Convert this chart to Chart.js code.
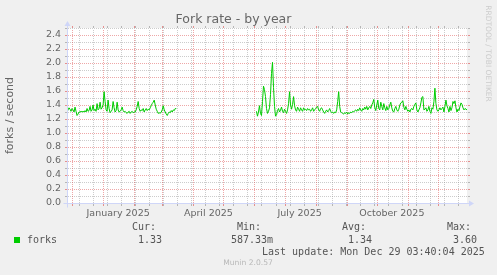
<!DOCTYPE html>
<html><head><meta charset="utf-8">
<script src="https://cdn.jsdelivr.net/npm/chart.js@4.4.1/dist/chart.umd.min.js"></script>
<style>html,body{margin:0;padding:0;background:#f0f0f0;overflow:hidden}#wrap{width:497px;height:275px;position:relative}</style>
</head><body><div id="wrap"><canvas id="c" width="497" height="275"></canvas></div>
<script>
const titleText = 'Fork rate - by year';
const yAxisTitle = 'forks / second';
const seriesName = 'forks';
const axisStart = '2024-11-26';
const axisEnd = '2025-12-30';
const seg1Start = '2024-11-26';
const seg1Values = [
1.30,1.33,1.36,1.34,1.31,1.35,1.33,1.30,1.37,1.31,
1.25,1.27,1.30,1.30,1.31,1.30,1.31,1.30,1.32,1.30,
1.35,1.31,1.32,1.38,1.31,1.33,1.40,1.32,1.34,1.31,
1.42,1.33,1.35,1.44,1.34,1.36,1.40,1.59,1.45,1.33,
1.31,1.47,1.35,1.29,1.31,1.33,1.45,1.36,1.30,1.32,
1.44,1.33,1.30,1.31,1.33,1.37,1.32,1.30,1.31,1.29,
1.28,1.30,1.31,1.28,1.30,1.31,1.29,1.30,1.30,1.33,
1.38,1.45,1.35,1.31,1.33,1.32,1.35,1.30,1.33,1.35,
1.32,1.34,1.33,1.36,1.39,1.42,1.44,1.47,1.40,1.34,
1.31,1.28,1.29,1.28,1.30,1.33,1.39,1.33,1.30,1.27,
1.25,1.28,1.30,1.29,1.32,1.30,1.33,1.32,1.35,1.35];
const seg2Start = '2025-06-03';
const seg2Values = [
1.31,1.24,1.30,1.39,1.28,1.25,1.45,1.67,1.62,1.52,
1.35,1.28,1.31,1.36,1.55,1.85,2.01,1.65,1.38,1.24,
1.26,1.32,1.35,1.30,1.33,1.37,1.31,1.29,1.34,1.31,
1.28,1.33,1.42,1.59,1.40,1.34,1.41,1.52,1.39,1.33,
1.31,1.37,1.34,1.31,1.36,1.33,1.31,1.36,1.33,1.34,
1.32,1.35,1.33,1.34,1.31,1.33,1.36,1.31,1.33,1.35,
1.37,1.38,1.33,1.31,1.35,1.36,1.33,1.30,1.28,1.31,
1.33,1.30,1.32,1.35,1.31,1.29,1.30,1.28,1.30,1.29,
1.33,1.45,1.59,1.38,1.30,1.29,1.28,1.27,1.29,1.28,
1.30,1.27,1.29,1.28,1.30,1.29,1.31,1.30,1.32,1.33,
1.31,1.34,1.32,1.36,1.33,1.31,1.35,1.33,1.37,1.34,
1.38,1.33,1.36,1.38,1.35,1.40,1.43,1.48,1.36,1.32,
1.40,1.47,1.35,1.33,1.44,1.38,1.33,1.42,1.36,1.32,
1.38,1.33,1.35,1.40,1.44,1.36,1.31,1.30,1.35,1.38,
1.33,1.31,1.34,1.40,1.43,1.44,1.46,1.37,1.33,1.38,
1.34,1.31,1.33,1.30,1.34,1.35,1.33,1.38,1.41,1.43,
1.33,1.30,1.33,1.36,1.43,1.51,1.52,1.33,1.34,1.36,
1.31,1.33,1.38,1.31,1.28,1.36,1.34,1.45,1.64,1.42,
1.33,1.31,1.33,1.36,1.33,1.35,1.37,1.30,1.38,1.47,
1.39,1.35,1.30,1.38,1.32,1.36,1.45,1.42,1.46,1.36,
1.30,1.34,1.32,1.38,1.43,1.41,1.36,1.33,1.35,1.34,1.33];
const yTicks = [0.0,0.2,0.4,0.6,0.8,1.0,1.2,1.4,1.6,1.8,2.0,2.2,2.4];
const yMinorTicks = [0.1,0.3,0.5,0.7,0.9,1.1,1.3,1.5,1.7,1.9,2.1,2.3,2.5];
const yMax = 2.5;
const xLabelDates = ['2025-01-16','2025-04-16','2025-07-16','2025-10-16'];
const xLabels = ['January 2025','April 2025','July 2025','October 2025'];
const majorGridDates = ['2024-12-01','2025-01-01','2025-02-01','2025-03-01','2025-04-01','2025-05-01','2025-06-01','2025-07-01','2025-08-01','2025-09-01','2025-10-01','2025-11-01','2025-12-01'];
const minorGridFirst = '2024-12-08';
const minorGridStepDays = 14;
const statLabels = ['Cur:','Min:','Avg:','Max:'];
const statValues = ['1.33','587.33m','1.34','3.60'];
const lastUpdate = 'Last update: Mon Dec 29 03:40:04 2025';
const footerText = 'Munin 2.0.57';
const watermark = 'RRDTOOL / TOBI OETIKER';

const day = s => (Date.parse(s + 'T00:00:00Z') - Date.parse(axisStart + 'T00:00:00Z')) / 864e5;
const points = [];
seg1Values.forEach((v, i) => points.push({x: day(seg1Start) + i, y: v}));
points.push({x: day(seg1Start) + seg1Values.length, y: null});
seg2Values.forEach((v, i) => points.push({x: day(seg2Start) + i, y: v}));

const minorGridDays = [];
for (let d = day(minorGridFirst); d <= day(axisEnd); d += minorGridStepDays) minorGridDays.push(d);

const TEXT = '#666666';
const GRID = 'rgba(143,143,143,0.45)';
const MGRID = 'rgba(222,79,79,0.5)';
const GRIDTICK = 'rgba(143,143,143,0.6)';
const MGRIDTICK = 'rgba(222,79,79,0.6)';
const AXIS = '#CFD6F8';

const rrdPlugin = {
  id: 'rrd',
  beforeDraw(chart) {
    const {ctx, chartArea: a} = chart;
    ctx.save();
    ctx.fillStyle = '#f0f0f0';
    ctx.fillRect(0, 0, chart.width, chart.height);
    ctx.fillStyle = '#ffffff';
    ctx.fillRect(a.left, a.top, a.right - a.left, a.bottom - a.top);
    ctx.restore();
  },
  beforeDatasetsDraw(chart) {
    const {ctx, chartArea: a, scales: {x, y}} = chart;
    const L = Math.round(a.left), R = Math.round(a.right), T = Math.round(a.top), B = Math.round(a.bottom);
    ctx.save();
    const vline = (d, col, tcol) => {
      const px = Math.round(x.getPixelForValue(d));
      if (px <= L || px >= R) return;
      ctx.fillStyle = col;
      for (let py = B - 1; py > T; py -= 2) ctx.fillRect(px, py, 1, 1);
      ctx.fillStyle = tcol;
      ctx.fillRect(px, B + 1, 1, 2);
      ctx.fillRect(px, T - 2, 1, 2);
    };
    const hline = (v, col, tcol) => {
      const py = Math.round(y.getPixelForValue(v));
      ctx.fillStyle = col;
      for (let px = L + 1; px < R; px += 2) ctx.fillRect(px, py, 1, 1);
      ctx.fillStyle = tcol;
      ctx.fillRect(L - 2, py, 2, 1);
      ctx.fillRect(R + 1, py, 2, 1);
    };
    minorGridDays.forEach(d => vline(d, GRID, GRIDTICK));
    yMinorTicks.forEach(v => hline(v, GRID, GRIDTICK));
    majorGridDates.forEach(s => vline(day(s), MGRID, MGRIDTICK));
    yTicks.forEach(v => { if (v > 0) hline(v, MGRID, MGRIDTICK); });
    ctx.restore();
  },
  afterDatasetsDraw(chart) {
    const {ctx, chartArea: a} = chart;
    const x0 = Math.round(a.left) + 0.5, y0 = Math.round(a.bottom) + 0.5;
    const x1 = Math.round(a.right), y1 = Math.round(a.top);
    ctx.save();
    ctx.strokeStyle = AXIS; ctx.fillStyle = AXIS; ctx.lineWidth = 1;
    ctx.beginPath();
    ctx.moveTo(x0 - 4, y0); ctx.lineTo(x1 + 4, y0);
    ctx.moveTo(x0, y0 + 4); ctx.lineTo(x0, y1 - 4);
    ctx.stroke();
    ctx.beginPath();
    ctx.moveTo(x1 + 2, y0 - 3); ctx.lineTo(x1 + 2, y0 + 3); ctx.lineTo(x1 + 7, y0); ctx.closePath(); ctx.fill();
    ctx.beginPath();
    ctx.moveTo(x0 - 3, y1 - 2); ctx.lineTo(x0 + 3, y1 - 2); ctx.lineTo(x0, y1 - 7); ctx.closePath(); ctx.fill();
    ctx.restore();
  },
  afterDraw(chart) {
    const {ctx} = chart;
    ctx.save();
    ctx.textBaseline = 'middle';
    ctx.textAlign = 'left';
    ctx.fillStyle = '#00cc00';
    ctx.fillRect(14, 237, 6, 6);
    ctx.font = '10px "DejaVu Sans Mono"';
    ctx.fillStyle = '#555555';
    ctx.fillText(seriesName, 27, 240.5);
    const labelX = [132, 237, 342, 447];
    const valueX = [138, 231, 348, 453];
    statLabels.forEach((t, i) => ctx.fillText(t, labelX[i], 227.5));
    statValues.forEach((t, i) => ctx.fillText(t, valueX[i], 240.5));
    ctx.fillText(lastUpdate, 262, 252.5);
    ctx.font = '7.6px "DejaVu Sans"';
    ctx.fillStyle = '#b8b8b8';
    ctx.textAlign = 'center';
    ctx.fillText(footerText, 248, 263.5);
    ctx.font = '7.5px "DejaVu Sans"';
    ctx.fillStyle = '#cccccc';
    ctx.translate(488, 53.5);
    ctx.rotate(Math.PI / 2);
    ctx.fillText(watermark, 0, 0);
    ctx.restore();
  }
};

Chart.defaults.font.family = '"DejaVu Sans"';
new Chart(document.getElementById('c'), {
  type: 'line',
  data: { datasets: [{
    label: seriesName, data: points, borderColor: '#00cc00', borderWidth: 1,
    pointRadius: 0, fill: false, spanGaps: false, tension: 0
  }]},
  options: {
    responsive: false, animation: false, devicePixelRatio: 1,
    layout: { padding: { left: 0, right: 30, top: 0, bottom: 52 } },
    plugins: {
      legend: { display: false }, tooltip: { enabled: false },
      title: { display: true, text: titleText, color: TEXT,
        font: { family: '"DejaVu Sans"', size: 12.5, weight: 'normal' },
        padding: { top: 12.5, bottom: 0.5 } }
    },
    scales: {
      x: { type: 'linear', min: 0, max: day(axisEnd),
        grid: { display: false, drawTicks: false }, border: { display: false },
        afterBuildTicks: s => { s.ticks = xLabelDates.map(d => ({ value: day(d) })); },
        afterFit: s => { s.height = 20; },
        ticks: { autoSkip: false, maxRotation: 0, minRotation: 0, padding: 5, color: TEXT,
          font: { size: 9.5 }, callback: (v, i) => xLabels[i] } },
      y: { min: 0, max: yMax,
        grid: { display: false, drawTicks: false }, border: { display: false },
        afterBuildTicks: s => { s.ticks = yTicks.map(v => ({ value: v })); },
        afterFit: s => { s.width = 67; },
        ticks: { padding: 6, color: TEXT, font: { size: 9.5 }, callback: v => Number(v).toFixed(1) },
        title: { display: true, text: yAxisTitle, color: TEXT, font: { size: 11 }, padding: { top: 3.4, bottom: 0 } } }
    }
  },
  plugins: [rrdPlugin]
});
</script></body></html>
